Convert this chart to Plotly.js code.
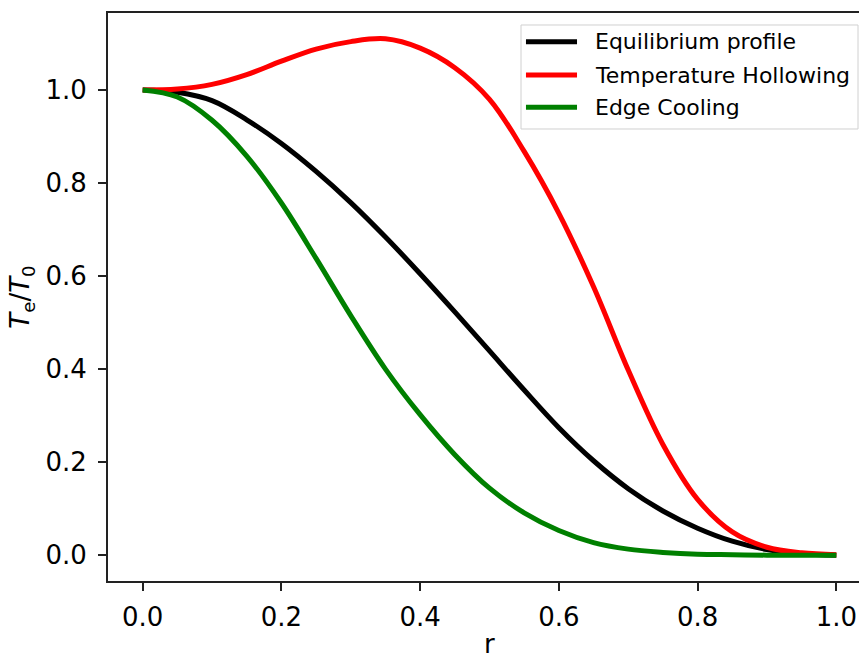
<!DOCTYPE html>
<html>
<head>
<meta charset="utf-8">
<script src="https://cdn.plot.ly/plotly-3.0.1.min.js"></script>
<style>
html,body{margin:0;padding:0;overflow:hidden;background:#fff;}
#chart{width:871px;height:653px;}
</style>
</head>
<body>
<div id="chart"></div>
<script>
// radius values
var r = [0,0.05,0.1,0.15,0.2,0.25,0.3,0.35,0.4,0.45,0.5,0.55,0.6,0.65,0.7,0.75,0.8,0.85,0.9,0.95,1.0];
// Equilibrium profile
var equilibrium = [1.0,0.995,0.977,0.936,0.885,0.825,0.758,0.684,0.605,0.523,0.439,0.355,0.274,0.203,0.143,0.095,0.058,0.030,0.012,0.003,0.0];
// Temperature Hollowing
var hollowing = [1.0,1.002,1.012,1.033,1.062,1.088,1.104,1.110,1.090,1.048,0.980,0.868,0.735,0.577,0.398,0.238,0.12,0.05,0.017,0.005,0.001];
// Edge Cooling
var edge = [1.0,0.985,0.935,0.858,0.757,0.638,0.515,0.40,0.302,0.216,0.144,0.091,0.053,0.027,0.013,0.006,0.002,0.001,0.0,0.0,0.0];

var seriesNames = ["Equilibrium profile","Temperature Hollowing","Edge Cooling"];
var seriesData = [equilibrium, hollowing, edge];
var seriesColors = ["#000000","#ff0000","#008000"];
var xTitle = "r";

var FONT = "DejaVu Sans, sans-serif";

var traces = seriesData.map(function(v,i){
  return {x:r, y:v, type:"scatter", mode:"lines", name:seriesNames[i],
          line:{color:seriesColors[i], width:5, shape:"spline", smoothing:1},
          showlegend:false};
});

// custom legend (matplotlib-like box)
var shapes = [{type:"rect", xref:"paper", yref:"paper", x0:0.5413, x1:0.9830, y0:0.7958, y1:0.9789,
               line:{color:"#d0d0d0", width:1}, fillcolor:"rgba(255,255,255,0.8)", layer:"above"}];
var annotations = [];
var rowsY = [0.9495, 0.8908, 0.8340];
seriesNames.forEach(function(n,i){
  shapes.push({type:"line", xref:"paper", yref:"paper", x0:0.5478, x1:0.6147, y0:rowsY[i], y1:rowsY[i],
               line:{color:seriesColors[i], width:5}, layer:"above"});
  annotations.push({xref:"paper", yref:"paper", x:0.6356, y:rowsY[i], xanchor:"left", yanchor:"middle",
               text:n, showarrow:false, font:{family:FONT, size:22, color:"#000"}});
});
// x-axis title (placed like matplotlib's, partly below the visible edge)
annotations.push({xref:"paper", yref:"paper", x:0.5, y:0, xanchor:"center", yanchor:"top", yshift:-46,
               text:xTitle, showarrow:false, font:{family:FONT, size:26, color:"#000"}});

var layout = {
  width:871, height:653,
  margin:{l:108, r:0, t:13, b:72, pad:0},
  paper_bgcolor:"#fff", plot_bgcolor:"#fff",
  font:{family:FONT, size:26, color:"#000"},
  xaxis:{range:[-0.05,1.05], tickvals:[0,0.2,0.4,0.6,0.8,1.0], ticktext:["0.0","0.2","0.4","0.6","0.8","1.0"],
         showgrid:false, zeroline:false, showline:true, mirror:true, linecolor:"#222", linewidth:2,
         ticks:"outside", ticklen:8, tickwidth:2, tickcolor:"#222",
         tickfont:{family:FONT, size:26, color:"#000"}, ticklabelstandoff:4},
  yaxis:{range:[-0.0555,1.1655], tickvals:[0,0.2,0.4,0.6,0.8,1.0], ticktext:["0.0","0.2","0.4","0.6","0.8","1.0"],
         showgrid:false, zeroline:false, showline:true, mirror:false, linecolor:"#222", linewidth:2,
         ticks:"outside", ticklen:8, tickwidth:2, tickcolor:"#222",
         tickfont:{family:FONT, size:26, color:"#000"}, ticklabelstandoff:6,
         title:{text:"<i>T</i><sub>e</sub>/<i>T</i><sub>0</sub>", font:{family:FONT, size:26, color:"#000"}, standoff:8}},
  shapes:shapes,
  annotations:annotations,
  showlegend:false
};

Plotly.newPlot("chart", traces, layout, {staticPlot:true, displayModeBar:false});
</script>
</body>
</html>
